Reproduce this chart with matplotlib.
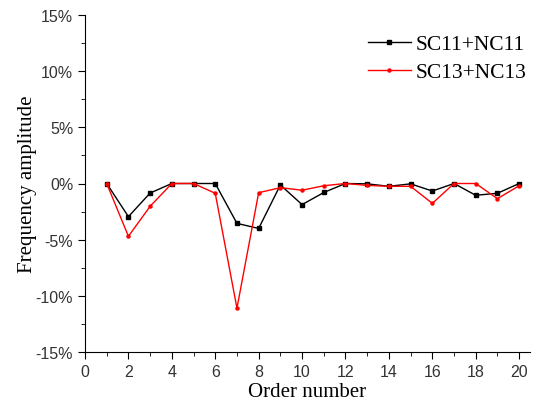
import matplotlib.pyplot as plt
from matplotlib.ticker import MultipleLocator, FuncFormatter

# 数据
order = list(range(1, 21))
sc11 = [0, -2.95, -0.85, 0, 0, 0, -3.55, -4.0, -0.13, -1.88,
        -0.8, 0, -0.03, -0.25, -0.03, -0.67, 0, -1.05, -0.87, 0]
sc13 = [0, -4.7, -2.03, 0, 0, -0.87, -11.1, -0.82, -0.37, -0.6,
        -0.2, 0, -0.17, -0.25, -0.25, -1.77, 0, 0, -1.35, -0.2]

fig = plt.figure(figsize=(5.34, 4.10), dpi=100)
ax = fig.add_axes([85 / 534, 1 - 353 / 410, 445 / 534, 337 / 410])

ax.plot(order, sc11, color='black', marker='s', markersize=2.2, linewidth=1,
        label='SC11+NC11')
ax.plot(order, sc13, color='red', marker='o', markersize=2.2, linewidth=1,
        label='SC13+NC13')

ax.set_xlim(0, 20.5)
ax.set_ylim(-15, 15)
ax.xaxis.set_major_locator(MultipleLocator(2))
ax.xaxis.set_minor_locator(MultipleLocator(1))
ax.yaxis.set_major_locator(MultipleLocator(5))
ax.yaxis.set_minor_locator(MultipleLocator(2.5))
ax.yaxis.set_major_formatter(FuncFormatter(lambda v, p: '%d%%' % round(v)))

for s in ['top', 'right']:
    ax.spines[s].set_visible(False)
ax.tick_params(which='major', direction='out', length=5, labelsize=11.5, colors='black')
ax.tick_params(which='minor', direction='out', length=3)
for lab in ax.get_xticklabels() + ax.get_yticklabels():
    lab.set_family('Liberation Sans')
    lab.set_color('#333333')

serif = {'family': 'Liberation Serif', 'size': 15}
ax.set_xlabel('Order number', fontdict=serif, labelpad=2)
ax.set_ylabel('Frequency amplitude', fontdict=serif, labelpad=-1)

ax.legend(loc='upper right', bbox_to_anchor=(1.035, 1.0), frameon=False,
          prop={'family': 'Liberation Serif', 'size': 15.5}, handlelength=2.0,
          handletextpad=0.2, labelspacing=0.35)

fig.savefig('out.png', dpi=100)
